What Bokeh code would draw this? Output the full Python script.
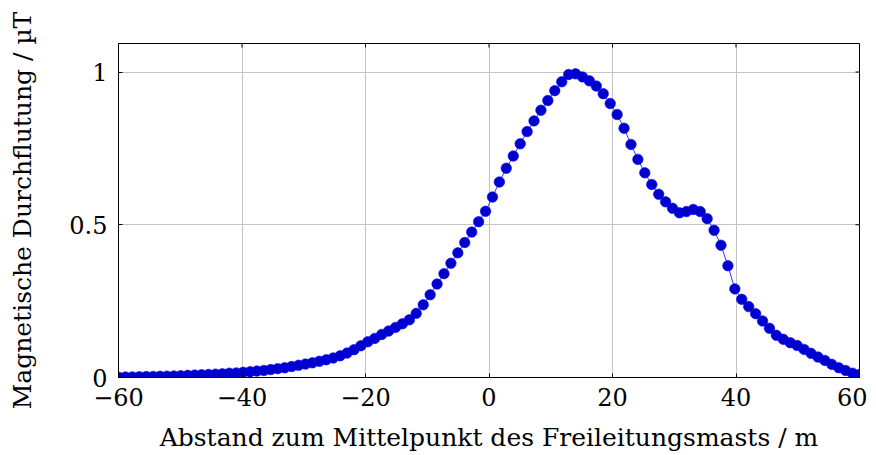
from bokeh.plotting import figure
from bokeh.models import Range1d, FixedTicker
from bokeh.embed import file_html
from bokeh.resources import INLINE

# Abstand zum Mittelpunkt des Freileitungsmasts / m
distance_m = [
    -60.00, -58.88, -57.76, -56.64, -55.51, -54.39, -53.27, -52.15, -51.03, -49.91,
    -48.79, -47.66, -46.54, -45.42, -44.30, -43.18, -42.06, -40.93, -39.81, -38.69,
    -37.57, -36.45, -35.33, -34.21, -33.08, -31.96, -30.84, -29.72, -28.60, -27.48,
    -26.36, -25.23, -24.11, -22.99, -21.87, -20.75, -19.63, -18.50, -17.38, -16.26,
    -15.14, -14.02, -12.90, -11.78, -10.65, -9.53, -8.41, -7.29, -6.17, -5.05,
    -3.93, -2.80, -1.68, -0.56, 0.56, 1.68, 2.80, 3.93, 5.05, 6.17,
    7.29, 8.41, 9.53, 10.65, 11.78, 12.90, 14.02, 15.14, 16.26, 17.38,
    18.50, 19.63, 20.75, 21.87, 22.99, 24.11, 25.23, 26.36, 27.48, 28.60,
    29.72, 30.84, 31.96, 33.08, 34.21, 35.33, 36.45, 37.57, 38.69, 39.81,
    40.93, 42.06, 43.18, 44.30, 45.42, 46.54, 47.66, 48.79, 49.91, 51.03,
    52.15, 53.27, 54.39, 55.51, 56.64, 57.76, 58.88, 60.00,
]

# Magnetische Durchflutung / µT
flux_uT = [
    0.001, 0.0015, 0.002, 0.0025, 0.003, 0.0035, 0.004, 0.0045, 0.005, 0.006,
    0.007, 0.008, 0.009, 0.010, 0.011, 0.012, 0.014, 0.015, 0.017, 0.019,
    0.021, 0.023, 0.026, 0.029, 0.032, 0.036, 0.040, 0.044, 0.048, 0.053,
    0.058, 0.064, 0.071, 0.080, 0.091, 0.104, 0.117, 0.128, 0.141, 0.152,
    0.164, 0.176, 0.189, 0.210, 0.238, 0.271, 0.306, 0.340, 0.374, 0.408,
    0.442, 0.476, 0.510, 0.544, 0.591, 0.640, 0.685, 0.725, 0.765, 0.805,
    0.840, 0.875, 0.907, 0.939, 0.968, 0.992, 0.994, 0.984, 0.971, 0.954,
    0.929, 0.897, 0.861, 0.816, 0.763, 0.714, 0.670, 0.632, 0.600, 0.575,
    0.554, 0.539, 0.543, 0.550, 0.543, 0.520, 0.482, 0.433, 0.366, 0.290,
    0.256, 0.232, 0.209, 0.185, 0.161, 0.138, 0.125, 0.114, 0.105, 0.092,
    0.079, 0.067, 0.056, 0.043, 0.032, 0.023, 0.014, 0.010,
]

x_ticks = [-60, -40, -20, 0, 20, 40, 60]
x_tick_labels = ["\u221260", "\u221240", "\u221220", "0", "20", "40", "60"]
y_ticks = [0, 0.5, 1]
y_tick_labels = ["0", "0.5", "1"]

X_MIN, X_MAX = -60, 60
Y_MIN, Y_MAX = 0, 1.0933
FRAME_W, FRAME_H = 741, 334

FONT = "DejaVu Serif"
FS_TICK = "24px"
FS_LABEL = "25px"

p = figure(
    frame_width=FRAME_W, frame_height=FRAME_H,
    min_border_left=118, min_border_top=43, min_border_right=8, min_border_bottom=8,
    x_range=Range1d(X_MIN, X_MAX), y_range=Range1d(Y_MIN, Y_MAX),
    output_backend="svg", toolbar_location=None,
)
p.background_fill_color = "white"
p.border_fill_color = "white"
p.outline_line_color = "black"
p.outline_line_width = 1

p.xgrid.ticker = FixedTicker(ticks=x_ticks)
p.ygrid.ticker = FixedTicker(ticks=y_ticks)
p.xgrid.grid_line_color = "#c4c4c4"
p.ygrid.grid_line_color = "#c4c4c4"
p.xgrid.grid_line_width = 1
p.ygrid.grid_line_width = 1

# inward tick marks on the top and right sides of the frame
tick_len_x = 4 * (X_MAX - X_MIN) / FRAME_W
tick_len_y = 4 * (Y_MAX - Y_MIN) / FRAME_H
p.segment(x0=x_ticks, y0=[Y_MAX] * len(x_ticks), x1=x_ticks,
          y1=[Y_MAX - tick_len_y] * len(x_ticks), line_color="black", line_width=1)
p.segment(x0=[X_MAX] * len(y_ticks), y0=y_ticks, x1=[X_MAX - tick_len_x] * len(y_ticks),
          y1=y_ticks, line_color="black", line_width=1)

p.line(distance_m, flux_uT, line_color="#0000FF", line_width=0.8)
p.scatter(distance_m, flux_uT, size=10.5, fill_color="#0000CC", line_color="#0000FF", line_width=0.6)

for ax in (p.xaxis[0], p.yaxis[0]):
    ax.axis_line_color = "black"
    ax.major_tick_in = 4
    ax.major_tick_out = 0
    ax.major_tick_line_color = "black"
    ax.minor_tick_line_color = None
    ax.major_label_text_font = FONT
    ax.major_label_text_font_size = FS_TICK
    ax.major_label_text_color = "black"
    ax.axis_label_text_font = FONT
    ax.axis_label_text_font_size = FS_LABEL
    ax.axis_label_text_font_style = "normal"
    ax.axis_label_text_color = "black"

p.xaxis[0].ticker = FixedTicker(ticks=x_ticks)
p.xaxis[0].major_label_overrides = dict(zip(x_ticks, x_tick_labels))
p.xaxis[0].axis_label = "Abstand zum Mittelpunkt des Freileitungsmasts / m"
p.xaxis[0].major_label_standoff = 10
p.xaxis[0].axis_label_standoff = 14

p.yaxis[0].ticker = FixedTicker(ticks=y_ticks)
p.yaxis[0].major_label_overrides = dict(zip(y_ticks, y_tick_labels))
p.yaxis[0].axis_label = "Magnetische Durchflutung / µT"
p.yaxis[0].major_label_standoff = 11
p.yaxis[0].axis_label_standoff = 29

open("out.html", "w").write(file_html(p, INLINE))
